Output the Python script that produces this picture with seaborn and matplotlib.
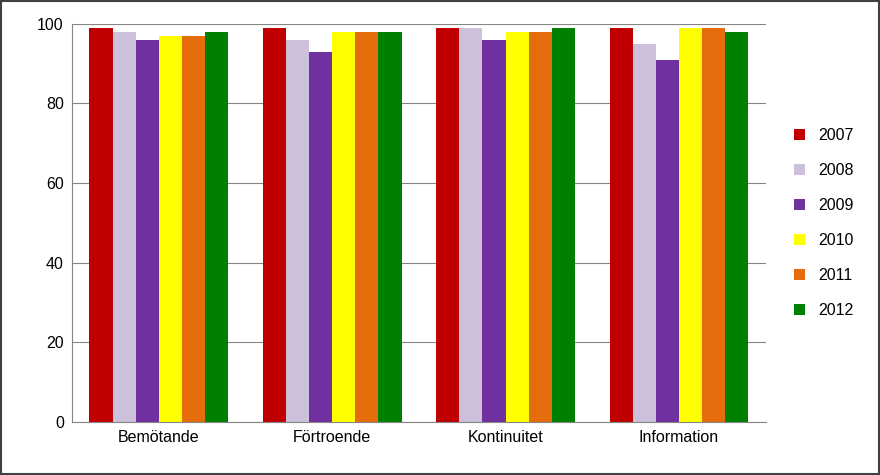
import matplotlib
matplotlib.use("Agg")
import matplotlib.pyplot as plt
import seaborn as sns
import pandas as pd

categories = ["Bemötande", "Förtroende", "Kontinuitet", "Information"]
years = ["2007", "2008", "2009", "2010", "2011", "2012"]
v2007 = [99, 99, 99, 99]
v2008 = [98, 96, 99, 95]
v2009 = [96, 93, 96, 91]
v2010 = [97, 98, 98, 99]
v2011 = [97, 98, 98, 99]
v2012 = [98, 98, 99, 98]
colors = ["#C00000", "#CCC0DA", "#7030A0", "#FFFF00", "#E46C0A", "#008000"]

series = [v2007, v2008, v2009, v2010, v2011, v2012]
rows = []
for y, vals in zip(years, series):
    for c, v in zip(categories, vals):
        rows.append({"cat": c, "year": y, "val": v})
df = pd.DataFrame(rows)

plt.rcParams["font.family"] = "Liberation Sans"
fig = plt.figure(figsize=(8.8, 4.75), dpi=100)
ax = fig.add_axes([0.082, 0.112, 0.788, 0.838])
sns.barplot(data=df, x="cat", y="val", hue="year", palette=colors, ax=ax,
            width=0.8, gap=0, saturation=1, edgecolor="none")
ax.set_ylim(0, 100)
ax.set_yticks(range(0, 101, 20))
ax.yaxis.grid(True, color="#868686", linewidth=0.8)
ax.set_axisbelow(True)
ax.set_xlabel(""); ax.set_ylabel("")
for s in ["top", "right"]:
    ax.spines[s].set_visible(False)
ax.spines["left"].set_color("#868686")
ax.spines["bottom"].set_color("#868686")
ax.tick_params(axis="both", labelsize=11.5, length=0, pad=6)
ax.legend(loc="center left", bbox_to_anchor=(1.02, 0.5), frameon=False,
          fontsize=11.5, handlelength=0.7, handleheight=0.7, labelspacing=1.25)
fig.patches.append(plt.Rectangle((0.001, 0.002), 0.998, 0.996, transform=fig.transFigure,
                                 fill=False, edgecolor="#404040", linewidth=1.5))
fig.savefig("out.png", dpi=100)
